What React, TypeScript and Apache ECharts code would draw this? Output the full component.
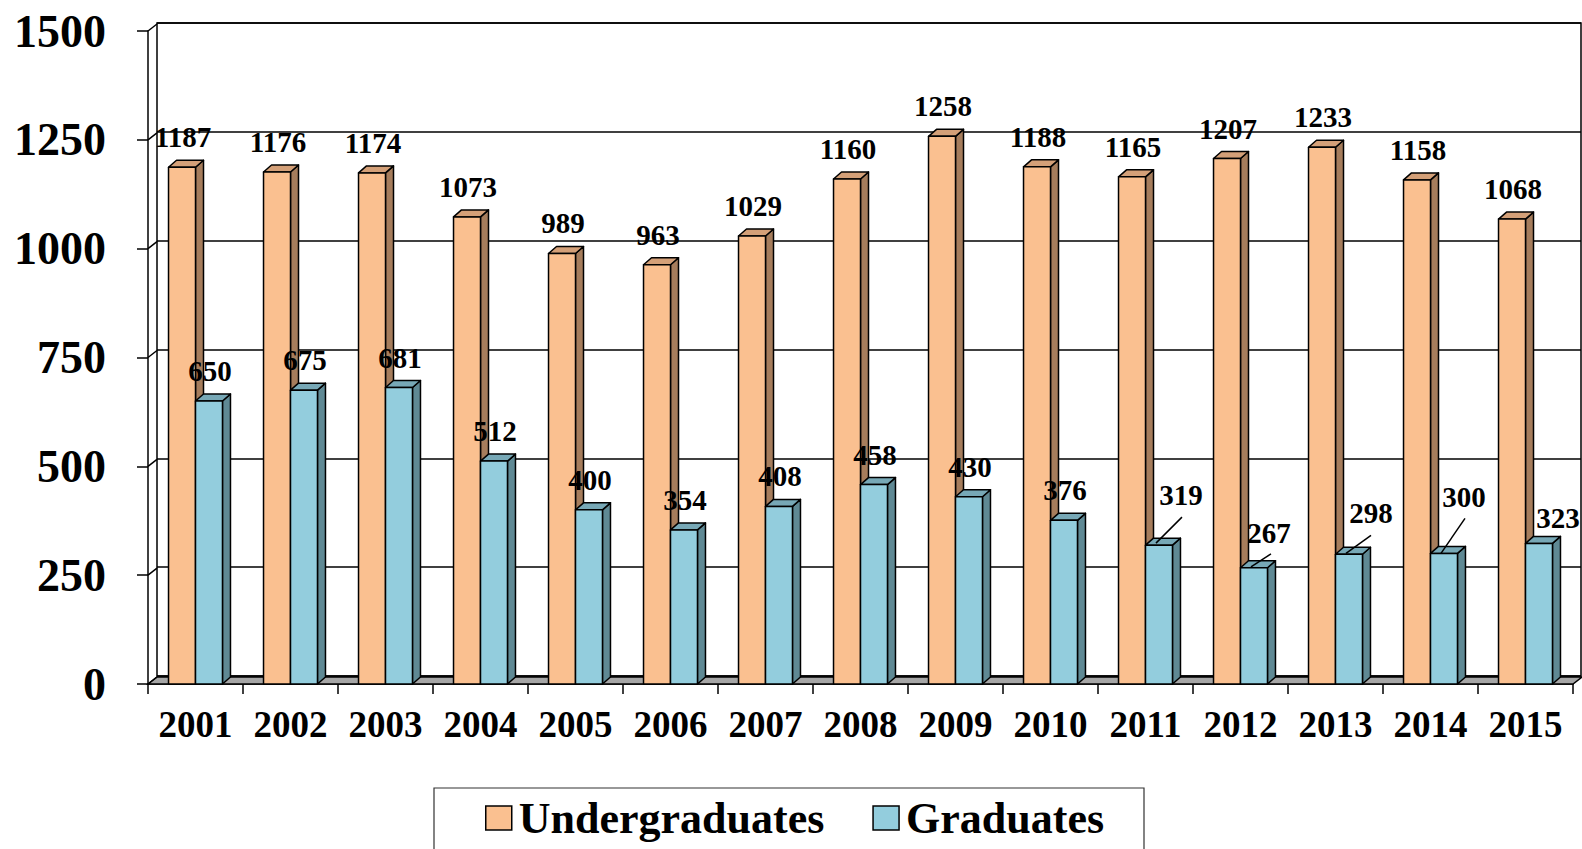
import React, { useEffect, useRef } from "react";
import * as echarts from "echarts";

const years = ["2001","2002","2003","2004","2005","2006","2007","2008","2009","2010","2011","2012","2013","2014","2015"];
const undergraduates = [1187,1176,1174,1073,989,963,1029,1160,1258,1188,1165,1207,1233,1158,1068];
const graduates = [650,675,681,512,400,354,408,458,430,376,319,267,298,300,323];
const yTicks = [0,250,500,750,1000,1250,1500];

const FONT = '"Liberation Serif", "Times New Roman", serif';

// label placement tweaks (style only): offset of label centre from bar front-top centre, optional leader line
const gradLabelAdjust: Record<number, { dx: number; dy: number; line?: number[] }> = {
  10: { dx: 22, dy: -50, line: [-3, -2, 23, -28] },
  11: { dx: 15, dy: -35, line: [-3, -1, 17, -14] },
  12: { dx: 22, dy: -41, line: [-3, -1, 22, -19] },
  13: { dx: 20, dy: -56, line: [-3, 0, 21, -35] },
  14: { dx: 19, dy: -25 },
};

const BAR_DX = 8, BAR_DY = 7;
const FLOOR_DX = 9, FLOOR_DY = 7;

function barRenderer(which: number, front: string, top: string, side: string, adjust: Record<number, any>) {
  return (params: any, api: any) => {
    const ci = api.value(0);
    const v = api.value(1);
    const base = api.coord([ci, 0]);
    const tp = api.coord([ci, v]);
    const band = api.size([1, 0])[0];
    const bw = band * 0.284;
    const x0 = which === 0 ? base[0] - bw : base[0];
    const x1 = x0 + bw;
    const yb = base[1];
    const yt = tp[1];
    const stroke = { stroke: "#000", lineWidth: 1.5, lineJoin: "round" };
    const children: any[] = [
      {
        type: "polygon",
        shape: { points: [[x1, yt], [x1 + BAR_DX, yt - BAR_DY], [x1 + BAR_DX, yb - BAR_DY], [x1, yb]] },
        style: { fill: side, ...stroke },
      },
      {
        type: "polygon",
        shape: { points: [[x0, yt], [x0 + BAR_DX, yt - BAR_DY], [x1 + BAR_DX, yt - BAR_DY], [x1, yt]] },
        style: { fill: top, ...stroke },
      },
      {
        type: "rect",
        shape: { x: x0, y: yt, width: bw, height: yb - yt },
        style: { fill: front, ...stroke },
      },
    ];
    const cx = (x0 + x1) / 2;
    const a = adjust[params.dataIndex] || { dx: 1, dy: -30 };
    if (a.line) {
      children.push({
        type: "line",
        shape: { x1: cx + a.line[0], y1: yt + a.line[1], x2: cx + a.line[2], y2: yt + a.line[3] },
        style: { stroke: "#000", lineWidth: 1.5 },
        z2: 50,
      });
    }
    children.push({
      type: "text",
      x: cx + a.dx,
      y: yt + a.dy,
      style: {
        text: String(v),
        fill: "#000",
        font: `bold 29px ${FONT}`,
        align: "center",
        verticalAlign: "middle",
      },
      z2: 100,
    });
    return { type: "group", children };
  };
}

export default function App() {
  const ref = useRef<HTMLDivElement>(null);
  useEffect(() => {
    if (!ref.current) return;
    const chart = echarts.init(ref.current, null, { renderer: "svg" });
    const option: any = {
      animation: false,
      backgroundColor: "#fff",
      textStyle: { fontFamily: FONT },
      grid: [
        { left: 148, right: 9, top: 31, bottom: 165, containLabel: false },
        { left: 157, right: 1, top: 23, bottom: 173, containLabel: false, show: true, borderColor: "#000", borderWidth: 1.5, backgroundColor: "transparent" },
      ],
      xAxis: [
        {
          type: "category",
          gridIndex: 0,
          data: years,
          boundaryGap: true,
          axisLine: { show: true, lineStyle: { color: "#000", width: 1.5 } },
          axisTick: { show: true, length: 10, lineStyle: { color: "#000", width: 1.5 } },
          axisLabel: { color: "#000", fontSize: 37, fontWeight: "bold", fontFamily: FONT, margin: 22, interval: 0 },
        },
        { type: "category", gridIndex: 1, data: years, show: false },
      ],
      yAxis: [
        {
          type: "value",
          gridIndex: 0,
          min: 0,
          max: 1500,
          interval: 250,
          axisLine: { show: true, lineStyle: { color: "#000", width: 1.5 } },
          axisTick: { show: true, length: 11, lineStyle: { color: "#000", width: 1.5 } },
          axisLabel: { color: "#000", fontSize: 46, fontWeight: "bold", fontFamily: FONT, margin: 42, formatter: (v: number) => String(v) },
          splitLine: { show: false },
        },
        {
          type: "value",
          gridIndex: 1,
          min: 0,
          max: 1500,
          interval: 250,
          axisLine: { show: false },
          axisTick: { show: false },
          axisLabel: { show: false },
          splitLine: { show: true, lineStyle: { color: "#000", width: 1.5 } },
        },
      ],
      legend: {
        data: ["Undergraduates", "Graduates"],
        left: 485,
        top: 796,
        padding: 0,
        icon: "rect",
        itemWidth: 26,
        itemHeight: 24,
        itemGap: 48,
        itemStyle: { borderColor: "#000", borderWidth: 1.5 },
        textStyle: { color: "#000", fontSize: 44, fontWeight: "bold", fontFamily: FONT, padding: [0, 0, 0, 2] },
      },
      graphic: [
        {
          type: "rect",
          shape: { x: 434, y: 788, width: 710, height: 90 },
          style: { fill: "none", stroke: "#333", lineWidth: 1.2 },
          silent: true,
        },
      ],
      series: [
        {
          type: "custom",
          name: "floor",
          xAxisIndex: 0,
          yAxisIndex: 0,
          z: 1,
          silent: true,
          data: [[0, 0]],
          renderItem: (params: any) => {
            const c = params.coordSys;
            const yb = c.y + c.height;
            return {
              type: "polygon",
              shape: { points: [[c.x, yb], [c.x + FLOOR_DX, yb - FLOOR_DY], [c.x + c.width + FLOOR_DX, yb - FLOOR_DY], [c.x + c.width, yb]] },
              style: { fill: "#a6a6a6", stroke: "#000", lineWidth: 1.5 },
            };
          },
        },
        {
          type: "custom",
          name: "wall",
          xAxisIndex: 0,
          yAxisIndex: 0,
          z: 1,
          silent: true,
          data: yTicks.map((v) => [0, v]),
          renderItem: (params: any, api: any) => {
            const c = params.coordSys;
            const y = api.coord([0, api.value(1)])[1];
            return {
              type: "line",
              shape: { x1: c.x, y1: y, x2: c.x + FLOOR_DX, y2: y - FLOOR_DY },
              style: { stroke: "#000", lineWidth: 1.5 },
            };
          },
        },
        {
          type: "custom",
          name: "Undergraduates",
          xAxisIndex: 0,
          yAxisIndex: 0,
          z: 3,
          itemStyle: { color: "#FAC090" },
          data: undergraduates.map((v, i) => [i, v]),
          encode: { x: 0, y: 1 },
          renderItem: barRenderer(0, "#FAC090", "#D4A078", "#A67D5C", {}),
        },
        {
          type: "custom",
          name: "Graduates",
          xAxisIndex: 0,
          yAxisIndex: 0,
          z: 4,
          itemStyle: { color: "#93CDDD" },
          data: graduates.map((v, i) => [i, v]),
          encode: { x: 0, y: 1 },
          renderItem: barRenderer(1, "#93CDDD", "#77A8B6", "#5F8994", gradLabelAdjust),
        },
      ],
    };
    chart.setOption(option);
    return () => chart.dispose();
  }, []);
  return <div ref={ref} style={{ position: "fixed", left: 0, top: 0, width: 1582, height: 849 }} />;
}
